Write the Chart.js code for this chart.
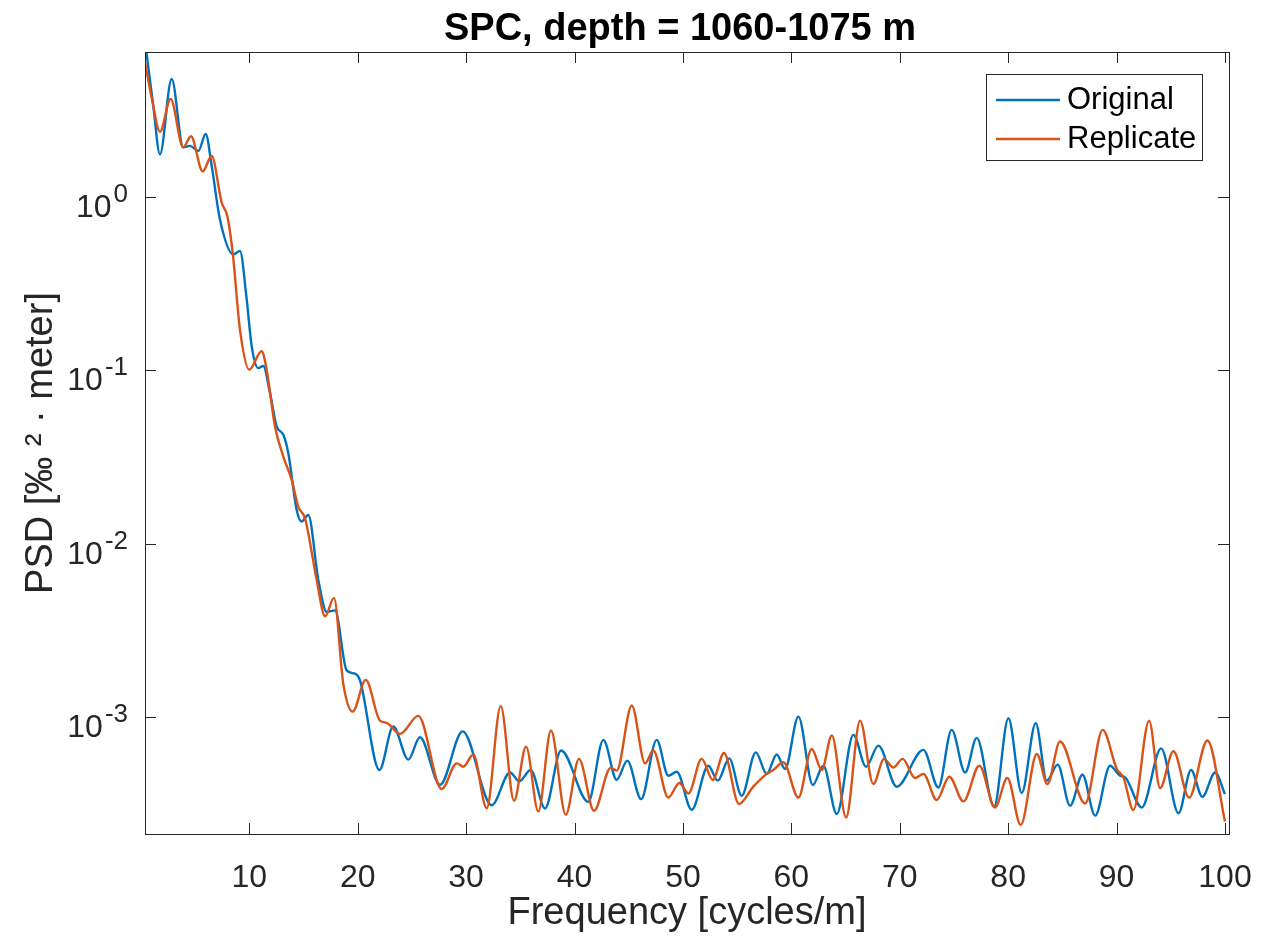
<!DOCTYPE html>
<html>
<head>
<meta charset="utf-8">
<title>SPC PSD</title>
<script src="https://cdn.jsdelivr.net/npm/chart.js@4.4.1/dist/chart.umd.min.js"></script>
<style>
  html, body { margin: 0; padding: 0; background: #fff; }
  canvas { display: block; }
</style>
</head>
<body>
<canvas id="psdChart" width="1265" height="937"></canvas>
<script>
// values
const freqOriginal = [0.38, 1.14, 1.76, 2.84, 3.91, 4.53, 5.30, 5.98, 6.53, 7.29, 8.52, 9.14, 9.76, 10.22, 10.83, 11.29, 11.91, 12.53, 13.14, 13.60,
  14.37, 14.83, 15.44, 16.37, 17.14, 17.91, 18.98, 19.75, 20.21, 22.00, 23.28, 24.67, 25.74, 27.59, 29.68, 32.36, 34.05, 34.91, 35.95, 37.28,
  38.76, 41.27, 42.66, 43.89, 44.87, 46.14, 47.58, 48.65, 49.43, 50.81, 52.34, 53.21, 54.27, 55.42, 56.72, 57.73, 58.65, 59.42, 60.65, 61.98,
  62.95, 64.19, 65.72, 66.89, 68.03, 69.72, 72.18, 73.56, 74.79, 76.03, 77.10, 78.70, 80.02, 81.25, 82.54, 83.56, 84.57, 85.71, 86.85, 88.02,
  89.40, 90.32, 90.79, 92.32, 94.11, 95.71, 96.87, 97.91, 99.09, 100.0];
const psdOriginal = [8.0, 3.38, 1.77, 4.82, 1.94, 1.98, 1.85, 2.32, 1.52, 0.746, 0.468, 0.489, 0.257, 0.138, 0.103, 0.106, 0.074, 0.0474, 0.0425, 0.0332,
  0.0156, 0.0134, 0.0146, 0.00614, 0.00402, 0.00411, 0.00185, 0.00177, 0.00162, 4.92e-4, 8.77e-4, 5.65e-4, 7.60e-4, 4.04e-4, 8.22e-4, 3.08e-4, 4.76e-4, 4.23e-4, 4.92e-4, 2.95e-4,
  6.37e-4, 3.22e-4, 7.34e-4, 4.32e-4, 5.57e-4, 3.34e-4, 7.34e-4, 4.56e-4, 4.81e-4, 2.90e-4, 5.21e-4, 4.27e-4, 5.74e-4, 3.49e-4, 6.22e-4, 4.67e-4, 6.04e-4, 4.99e-4, 1.00e-3, 4.03e-4,
  5.21e-4, 2.74e-4, 7.85e-4, 5.14e-4, 6.80e-4, 3.94e-4, 6.43e-4, 3.90e-4, 8.39e-4, 4.76e-4, 7.54e-4, 3.02e-4, 9.79e-4, 3.62e-4, 9.16e-4, 4.27e-4, 5.28e-4, 3.06e-4, 4.62e-4, 2.68e-4,
  5.21e-4, 4.56e-4, 4.46e-4, 2.99e-4, 6.56e-4, 2.77e-4, 4.92e-4, 3.44e-4, 4.76e-4, 3.57e-4];

const freqReplicate = [0.38, 1.02, 1.76, 2.74, 3.91, 4.62, 5.70, 6.53, 7.45, 7.97, 8.47, 9.14, 10.00, 11.14, 11.60, 12.37, 13.14, 13.91, 14.52, 15.14,
  16.22, 16.99, 17.81, 18.67, 19.54, 20.74, 22.05, 22.67, 23.90, 25.59, 27.75, 29.13, 29.74, 30.66, 31.90, 33.19, 34.42, 35.53, 36.66, 37.83,
  39.19, 40.41, 41.80, 43.33, 43.89, 45.28, 46.51, 47.26, 48.65, 49.67, 50.50, 51.73, 52.75, 53.79, 55.17, 56.49, 57.73, 58.34, 59.26, 60.65,
  61.88, 62.80, 63.73, 65.05, 66.34, 67.56, 68.55, 69.40, 70.27, 71.41, 72.18, 73.41, 74.57, 75.87, 77.34, 78.79, 79.93, 81.16, 82.64, 83.62,
  84.78, 87.10, 88.72, 90.02, 90.63, 91.55, 93.00, 94.01, 95.24, 96.69, 98.38, 100.0];
const psdReplicate = [6.03, 3.69, 2.39, 3.69, 1.94, 2.25, 1.41, 1.73, 0.932, 0.779, 0.478, 0.172, 0.101, 0.129, 0.101, 0.0474, 0.0318, 0.0233, 0.0163, 0.0140,
  0.00614, 0.00380, 0.00485, 0.00155, 0.00107, 0.00163, 9.49e-4, 9.21e-4, 7.95e-4, 1.01e-3, 3.82e-4, 5.37e-4, 5.14e-4, 6.04e-4, 2.96e-4, 1.15e-3, 3.27e-4, 6.71e-4, 2.83e-4, 8.31e-4,
  2.71e-4, 5.70e-4, 2.86e-4, 5.06e-4, 4.88e-4, 1.16e-3, 5.37e-4, 6.37e-4, 3.41e-4, 4.14e-4, 3.60e-4, 5.70e-4, 4.31e-4, 6.17e-4, 3.13e-4, 3.94e-4, 4.67e-4, 4.92e-4, 5.45e-4, 3.41e-4,
  6.51e-4, 4.92e-4, 7.78e-4, 2.62e-4, 9.49e-4, 4.08e-4, 5.70e-4, 5.09e-4, 5.70e-4, 4.42e-4, 4.67e-4, 3.30e-4, 4.50e-4, 3.24e-4, 5.21e-4, 2.99e-4, 4.42e-4, 2.37e-4, 6.09e-4, 4.08e-4,
  7.18e-4, 3.15e-4, 8.39e-4, 4.99e-4, 4.46e-4, 2.89e-4, 9.49e-4, 3.87e-4, 6.31e-4, 3.41e-4, 7.28e-4, 2.48e-4];

const xTicks = [10, 20, 30, 40, 50, 60, 70, 80, 90, 100];
const yTicks = [1e-3, 1e-2, 1e-1, 1];
const yTickExponents = ['-3', '-2', '-1', '0'];
const seriesNames = ['Original', 'Replicate'];

const titleText = 'SPC, depth = 1060-1075 m';
const axisColor = '#262626';
const fontFamily = '"Liberation Sans", Arial, Helvetica, sans-serif';
const blue = '#0072BD';
const orange = '#D95319';

Chart.defaults.font.family = fontFamily;
Chart.defaults.color = axisColor;

function toPoints(xs, ys) {
  return xs.map((x, i) => ({ x: x, y: ys[i] }));
}

// box, inward tick marks, power-of-ten labels, title and legend, matlab style
const matlabFrame = {
  id: 'matlabFrame',
  afterDraw(chart) {
    const ctx = chart.ctx;
    const a = chart.chartArea;
    const xs = chart.scales.x;
    const ys = chart.scales.y;
    ctx.save();
    ctx.strokeStyle = axisColor;
    ctx.lineWidth = 1;
    ctx.strokeRect(a.left + 0.5, a.top + 0.5, a.right - a.left, a.bottom - a.top);
    ctx.beginPath();
    xTicks.forEach(v => {
      const px = Math.round(xs.getPixelForValue(v)) + 0.5;
      ctx.moveTo(px, a.bottom); ctx.lineTo(px, a.bottom - 11);
      ctx.moveTo(px, a.top); ctx.lineTo(px, a.top + 11);
    });
    yTicks.forEach(v => {
      const py = Math.round(ys.getPixelForValue(v)) + 0.5;
      ctx.moveTo(a.left, py); ctx.lineTo(a.left + 11, py);
      ctx.moveTo(a.right, py); ctx.lineTo(a.right - 11, py);
    });
    ctx.stroke();

    // y tick labels as 10 with raised exponent
    ctx.fillStyle = axisColor;
    ctx.textAlign = 'right';
    ctx.textBaseline = 'alphabetic';
    yTicks.forEach((v, i) => {
      const py = ys.getPixelForValue(v);
      const rightEdge = a.left - 17;
      ctx.font = '26px ' + fontFamily;
      const ew = ctx.measureText(yTickExponents[i]).width;
      ctx.fillText(yTickExponents[i], rightEdge, py + 5);
      ctx.font = '32px ' + fontFamily;
      ctx.fillText('10', rightEdge - ew - 2, py + 20);
    });

    // title
    ctx.fillStyle = '#000';
    ctx.font = 'bold 38px ' + fontFamily;
    ctx.textAlign = 'center';
    ctx.fillText(titleText, (a.left + a.right) / 2 - 7, 40);

    // legend
    const bw = 216, bh = 86;
    const bx = a.right - 27 - bw, by = a.top + 22;
    ctx.fillStyle = '#fff';
    ctx.fillRect(bx, by, bw, bh);
    ctx.strokeStyle = axisColor;
    ctx.lineWidth = 1;
    ctx.strokeRect(bx + 0.5, by + 0.5, bw, bh);
    ctx.font = '31px ' + fontFamily;
    ctx.textAlign = 'left';
    ctx.textBaseline = 'middle';
    chart.data.datasets.forEach((ds, i) => {
      const ly = by + 26 + i * 39;
      ctx.strokeStyle = ds.borderColor;
      ctx.lineWidth = 2.4;
      ctx.beginPath();
      ctx.moveTo(bx + 10, ly); ctx.lineTo(bx + 74, ly);
      ctx.stroke();
      ctx.fillStyle = '#000';
      ctx.fillText(ds.label, bx + 81, ly);
    });
    ctx.restore();
  }
};

const ctx = document.getElementById('psdChart').getContext('2d');
const psdChart = new Chart(ctx, {
  type: 'line',
  data: {
    datasets: [{
      label: seriesNames[0],
      data: toPoints(freqOriginal, psdOriginal),
      borderColor: blue,
      borderWidth: 2.4,
      pointRadius: 0,
      fill: false,
      cubicInterpolationMode: 'monotone',
      order: 1
    }, {
      label: seriesNames[1],
      data: toPoints(freqReplicate, psdReplicate),
      borderColor: orange,
      borderWidth: 2.4,
      pointRadius: 0,
      fill: false,
      cubicInterpolationMode: 'monotone',
      order: 0
    }]
  },
  options: {
    responsive: false,
    animation: false,
    devicePixelRatio: 1,
    layout: { padding: { top: 52, right: 36, left: 0, bottom: 0 } },
    plugins: {
      legend: { display: false },
      title: { display: false },
      tooltip: { enabled: false }
    },
    scales: {
      x: {
        type: 'linear',
        min: 0.38,
        max: 100.37,
        grid: { display: false },
        border: { display: false },
        afterBuildTicks: s => { s.ticks = xTicks.map(v => ({ value: v })); },
        afterFit: s => { s.height = 103; s.paddingLeft = 0; s.paddingRight = 0; },
        ticks: {
          font: { size: 32 },
          color: axisColor,
          padding: 17,
          maxRotation: 0,
          autoSkip: false
        },
        title: {
          display: true,
          text: 'Frequency [cycles/m]',
          font: { size: 38 },
          color: axisColor,
          padding: { top: 0, bottom: 1 }
        }
      },
      y: {
        type: 'logarithmic',
        min: 2.1e-4,
        max: 6.9,
        grid: { display: false },
        border: { display: false },
        afterBuildTicks: s => { s.ticks = yTicks.map(v => ({ value: v })); },
        afterFit: s => { s.width = 145; s.paddingTop = 0; s.paddingBottom = 0; },
        ticks: { display: false },
        title: {
          display: true,
          text: 'PSD [\u2030 \u00B2 \u00B7 meter]',
          font: { size: 38 },
          color: axisColor,
          padding: { top: 19, bottom: 0 }
        }
      }
    }
  },
  plugins: [matlabFrame]
});
</script>
</body>
</html>
